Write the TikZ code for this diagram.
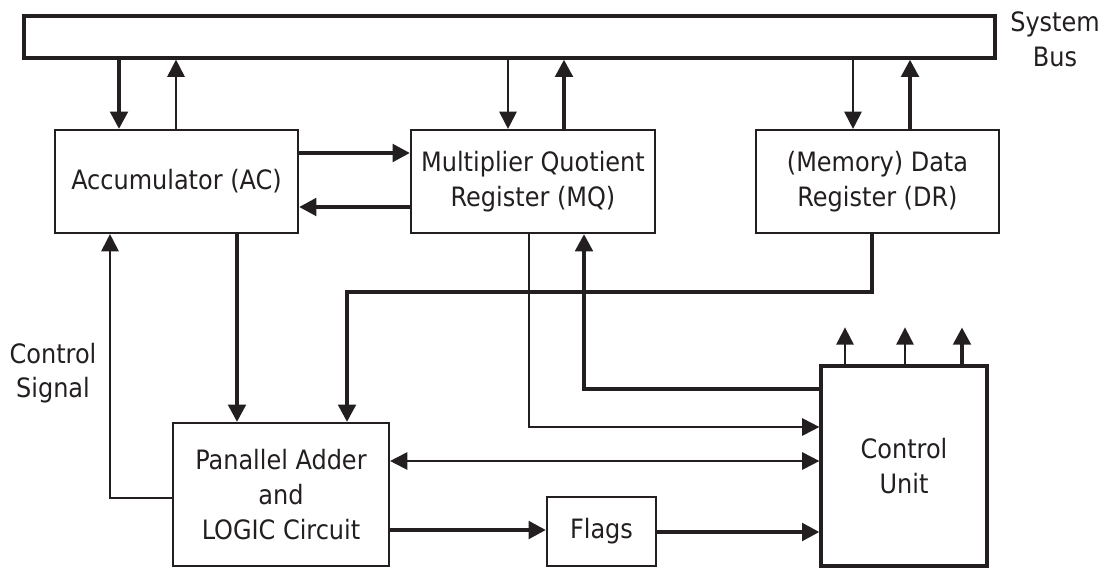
\documentclass[tikz,border=0pt]{standalone}
\usepackage{fontspec}
\setmainfont{DejaVu Sans Condensed}
\usetikzlibrary{arrows.meta}
\definecolor{ink}{HTML}{231F20}

\tikzset{
  box/.style={draw=ink, line width=1.6pt, rectangle, inner sep=0pt, align=center, text=ink},
  thinarrow/.style={draw=ink, line width=1.5pt, -{Triangle[length=13pt,width=13pt]}},
  thickarrow/.style={draw=ink, line width=3pt, -{Triangle[length=13pt,width=13pt]}},
}

\begin{document}
\begin{tikzpicture}[x=0.75pt,y=0.75pt,yscale=-1,xscale=1, font=\fontsize{20}{26}\selectfont]
\useasboundingbox (0,0) rectangle (1110,568);

%Shape: Rectangle (system bus)
\node [box, line width=2.4pt, minimum width=728.25pt, minimum height=31.5pt] (bus) at (509.5,37) {};
%Shape: Rectangle (registers)
\node [box, minimum width=182.25pt, minimum height=77.25pt] (ac) at (176.5,181.5) {Accumulator (AC)};
\node [box, minimum width=183pt, minimum height=77.25pt] (mq) at (533,181.5) {Multiplier Quotient\\Register (MQ)};
\node [box, minimum width=182.25pt, minimum height=77.25pt] (dr) at (877.5,181.5) {(Memory) Data\\Register (DR)};
%Shape: Rectangle (adder, flags, control)
\node [box, minimum width=162pt, minimum height=107.25pt] (adder) at (281,494.5) {Panallel Adder\\and\\LOGIC Circuit};
\node [box, minimum width=81.75pt, minimum height=51.75pt] (flags) at (601.5,531.5) {Flags};
\node [box, line width=2.4pt, minimum width=124.5pt, minimum height=150pt] (cu) at (904,466) {Control\\Unit};

% Text Node
\node [text=ink, align=center] (buslabel) at (1055,39) {System\\Bus};
% Text Node
\node [text=ink, align=center] (ctrllabel) at (53,373) {Control\\Signal};

%Straight Lines (bus <-> registers)
\draw [thickarrow] (119,0 |- bus.south) -- (119,0 |- ac.north);
\draw [thinarrow] (176,0 |- ac.north) -- (176,0 |- bus.south);
\draw [thinarrow] (508,0 |- bus.south) -- (508,0 |- mq.north);
\draw [thickarrow] (564,0 |- mq.north) -- (564,0 |- bus.south);
\draw [thinarrow] (853,0 |- bus.south) -- (853,0 |- dr.north);
\draw [thickarrow] (910,0 |- dr.north) -- (910,0 |- bus.south);

%Straight Lines (AC <-> MQ)
\draw [thickarrow] (ac.east |- 0,153) -- (mq.west |- 0,153);
\draw [thickarrow] (mq.west |- 0,207) -- (ac.east |- 0,207);

%Straight Lines (into the adder)
\draw [thickarrow] (237,0 |- ac.south) -- (237,0 |- adder.north);
\draw [thickarrow] (872,0 |- dr.south) -- (872,292) -| (347,0 |- adder.north);
\draw [thinarrow] (adder.west |- 0,498) -| (110,0 |- ac.south);

%Straight Lines (control unit)
\draw [thickarrow] (cu.west |- 0,389) -| (584,0 |- mq.south);
\draw [thinarrow] (529,0 |- mq.south) |- (cu.west |- 0,427);
\draw [thinarrow, {Triangle[length=13pt,width=13pt]}-{Triangle[length=13pt,width=13pt]}] (adder.east |- 0,461) -- (cu.west |- 0,461);
\draw [thickarrow] (adder.east |- 0,530) -- (flags.west |- 0,530);
\draw [thickarrow] (flags.east |- 0,532) -- (cu.west |- 0,532);

%Straight Lines (control outputs)
\draw [thinarrow] (845,0 |- cu.north) -- ++(0,-37);
\draw [thinarrow] (905,0 |- cu.north) -- ++(0,-37);
\draw [thickarrow] (962,0 |- cu.north) -- ++(0,-37);

\end{tikzpicture}
\end{document}
